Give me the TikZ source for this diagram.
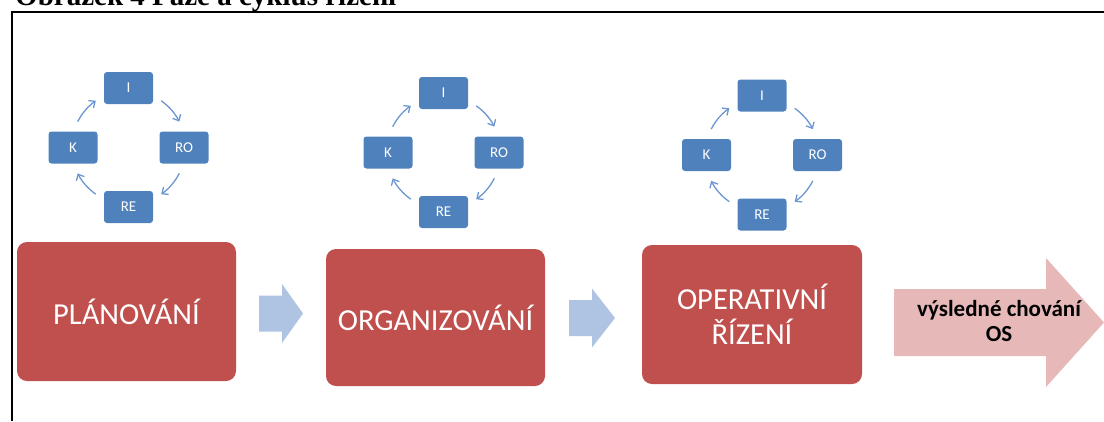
\documentclass[tikz,border=0pt]{standalone}
\usepackage{fontspec}
\setmainfont{Carlito}
\newfontfamily\captionserif{Liberation Serif}
\usetikzlibrary{arrows.meta,calc}

\definecolor{phasered}{HTML}{C0504D}
\definecolor{stepblue}{HTML}{4F81BD}
\definecolor{looparrow}{HTML}{6C96CF}
\definecolor{chevblue}{HTML}{AFC3E2}
\definecolor{resultpink}{HTML}{E6B9B8}

\tikzset{
  x=1pt, y=1pt,
  blk/.style={fill=stepblue, rounded corners=3pt, minimum width=49pt,
    minimum height=32pt, inner sep=0pt, text=white, font=\fontsize{15}{17}\selectfont},
  phase/.style={fill=phasered, rounded corners=10pt, inner sep=0pt, text=white,
    align=center, font=\fontsize{30.5}{35}\selectfont},
  cyc/.style={draw=looparrow, line width=1.3pt,
    -{Straight Barb[length=5pt,width=9pt]}},
  chev/.style={fill=chevblue},
}

% one management cycle I -> RO -> RE -> K around the centre (cx,cy)
\newcommand{\mgmtcycle}[3]{%
  \coordinate (c#1) at (#2,#3);
  \node[blk] (I#1)  at ($(c#1)+(0,59.5)$)  {I};
  \node[blk] (RO#1) at ($(c#1)+(55.5,0)$)  {RO};
  \node[blk] (RE#1) at ($(c#1)+(0,-59.5)$) {RE};
  \node[blk] (K#1)  at ($(c#1)+(-55.5,0)$) {K};
  \draw[cyc] ([shift={(55:57)}]c#1)   arc[start angle=55,   end angle=27,   radius=57];
  \draw[cyc] ([shift={(-27:57)}]c#1)  arc[start angle=-27,  end angle=-55,  radius=57];
  \draw[cyc] ([shift={(-125:57)}]c#1) arc[start angle=-125, end angle=-153, radius=57];
  \draw[cyc] ([shift={(153:57)}]c#1)  arc[start angle=153,  end angle=125,  radius=57];
}

% block arrow: tail x, head base x, tip x, centre y
\newcommand{\chevron}[4]{%
  \fill[chev] (#1,#4+18) -- (#2,#4+18) -- (#2,#4+29.5) -- (#3,#4)
    -- (#2,#4-29.5) -- (#2,#4-18) -- (#1,#4-18) -- cycle;
}

\begin{document}
\begin{tikzpicture}
\useasboundingbox (0,0) rectangle (1104,-421);

% caption above the frame
\node[anchor=base west, inner sep=0pt,
  font=\captionserif\bfseries\fontsize{29}{34}\selectfont] (caption) at (15,-5)
  {Obrázek 4 Fáze a cyklus řízení};

% frame
\draw[line width=2pt] (12,-421) -- (12,-12) -- (1104,-12);

% cycles
\mgmtcycle{1}{128.5}{-147.5}
\mgmtcycle{2}{443.5}{-152.5}
\mgmtcycle{3}{762}{-155}

% phases
\node[phase, minimum width=219pt, minimum height=139pt] (P1) at (126.5,-311.5) {PLÁNOVÁNÍ};
\node[phase, minimum width=219pt, minimum height=137pt] (P2) at (435.5,-317.5) {ORGANIZOVÁNÍ};
\node[phase, minimum width=220pt, minimum height=139pt] (P3) at (752,-314.5) {OPERATIVNÍ\\ŘÍZENÍ};

% arrows between phases
\chevron{259}{282}{303}{-313.5}
\chevron{569}{592}{615}{-318}

% resulting behaviour
\fill[resultpink] (894,-289) -- (1046,-289) -- (1046,-258) -- (1104,-322.5)
  -- (1046,-387) -- (1046,-356) -- (894,-356) -- cycle;
\node[align=center, font=\bfseries\fontsize{23}{25}\selectfont] (res) at (999,-321)
  {výsledné chování\\OS};
\end{tikzpicture}
\end{document}
